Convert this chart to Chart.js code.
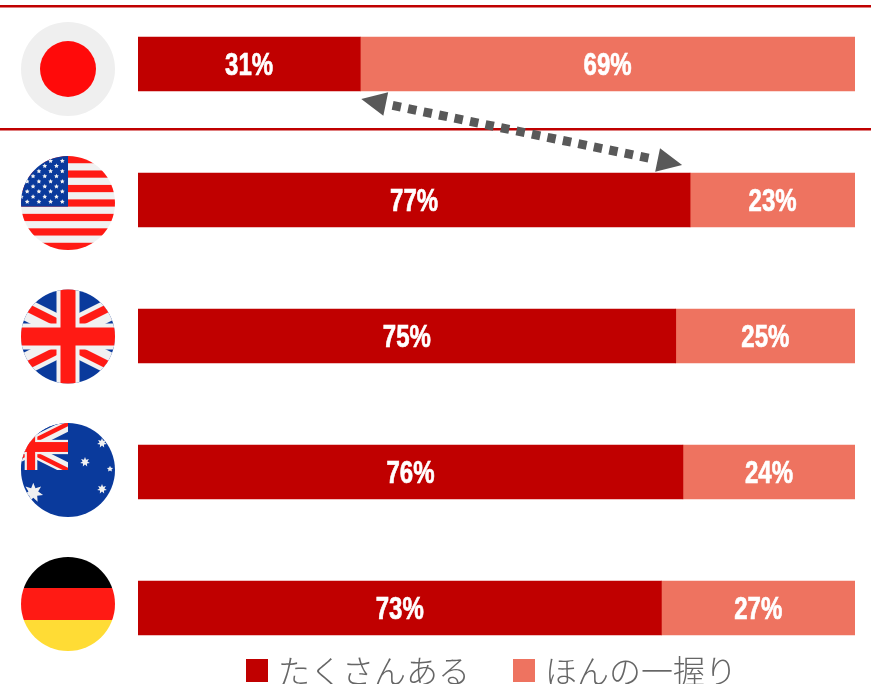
<!DOCTYPE html>
<html lang="ja">
<head>
<meta charset="utf-8">
<title>たくさんある / ほんの一握り</title>
<script src="https://cdn.jsdelivr.net/npm/chart.js@4"></script>
<style>
    html, body { margin: 0; padding: 0; background: #fff; overflow: hidden; }
    #wrap { position: relative; width: 871px; height: 684px; overflow: hidden; }
    #wrap canvas { position: absolute; left: 0; top: -4px; }
    #legend {
        position: absolute; left: 246px; top: 650.5px; display: flex; align-items: center;
        font-family: "Noto Sans CJK JP", "Noto Sans", sans-serif; font-weight: 300;
        font-size: 32px; line-height: 40px; color: #666; white-space: nowrap;
    }
    #legend i { display: inline-block; width: 22px; height: 23px; margin-right: 10px; }
    #legend span { margin-right: 43px; position: relative; top: -2px; }
</style>
</head>
<body>
<div id="wrap">
    <canvas id="shareChart" width="871" height="688"></canvas>
    <div id="legend"></div>
</div>
<script>
const countries = ['日本', 'アメリカ', 'イギリス', 'オーストラリア', 'ドイツ'];
const seriesNames = ['たくさんある', 'ほんの一握り'];
const manyValues = [31, 77, 75, 76, 73];
const fewValues = [69, 23, 25, 24, 27];
const seriesColors = ['#C00000', '#EE7360'];

const RED = '#FF1A14', BLUE = '#0A3A9C', WHITE = '#F1F1F1';

// canvas sits 4px above the page
const PAGE = 4;

function star(ctx, x, y, r, points) {
    let inner = r * 0.5;
    ctx.beginPath();
    for (let i = 0; i < points * 2; i++) {
        let a = -Math.PI / 2 + i * Math.PI / points;
        let d = i % 2 ? inner : r;
        ctx.lineTo(x + Math.cos(a) * d, y + Math.sin(a) * d);
    }
    ctx.closePath();
    ctx.fill();
}

// union flag centred on 0,0, wider than tall so the diagonals run shallow
function unionJack(ctx, scale) {
    ctx.save();
    ctx.scale(scale, scale);
    ctx.fillStyle = BLUE;
    ctx.fillRect(-100, -100, 200, 200);
    [[1, 1], [-1, 1], [1, -1], [-1, -1]].forEach(q => {
        ctx.save();
        ctx.scale(q[0], q[1]);
        ctx.fillStyle = WHITE;
        band(ctx, -18, 6);
        ctx.fillStyle = RED;
        band(ctx, -13, -4);
        ctx.restore();
    });
    ctx.fillStyle = WHITE;
    ctx.fillRect(-11.5, -100, 23, 200);
    ctx.fillRect(-100, -13, 200, 26);
    ctx.fillStyle = RED;
    ctx.fillRect(-7.5, -100, 15, 200);
    ctx.fillRect(-100, -9, 200, 18);
    ctx.restore();
}

function band(ctx, top, bottom) {
    ctx.beginPath();
    ctx.moveTo(0, top);
    ctx.lineTo(-100, -50 + top);
    ctx.lineTo(-100, -50 + bottom);
    ctx.lineTo(0, bottom);
    ctx.closePath();
    ctx.fill();
}

// each flag painter works in a box centred on 0,0 with radius 47
const flagPainters = [
    ctx => {
        ctx.fillStyle = '#EFEFEF';
        ctx.fillRect(-48, -48, 96, 96);
        ctx.fillStyle = '#FF0A0A';
        ctx.beginPath();
        ctx.arc(0, 0, 28, 0, Math.PI * 2);
        ctx.fill();
    },
    ctx => {
        let stripe = 94 / 13;
        ctx.fillStyle = WHITE;
        ctx.fillRect(-48, -48, 96, 96);
        ctx.fillStyle = RED;
        for (let i = 0; i < 13; i += 2) ctx.fillRect(-48, -47 + i * stripe, 96, stripe);
        ctx.fillStyle = BLUE;
        ctx.fillRect(-48, -47, 48, stripe * 7);
        ctx.fillStyle = WHITE;
        for (let row = 0; row < 9; row++) {
            let odd = row % 2;
            for (let col = 0; col < 4; col++) {
                let sx = -5.7 - col * 11.7 - (odd ? 5.85 : 0);
                star(ctx, sx, -42 + row * 5.1, 2.5, 5);
            }
        }
    },
    ctx => unionJack(ctx, 1),
    ctx => {
        ctx.fillStyle = BLUE;
        ctx.fillRect(-48, -48, 96, 96);
        ctx.save();
        ctx.beginPath();
        ctx.rect(-48, -48, 48, 48);
        ctx.clip();
        ctx.translate(-37, -23);
        unionJack(ctx, 0.55);
        ctx.restore();
        ctx.fillStyle = WHITE;
        star(ctx, -34.7, 22.7, 10, 7);
        star(ctx, 17, -8, 5, 7);
        star(ctx, 34, -27, 5, 7);
        star(ctx, 42, -1, 3.2, 5);
        star(ctx, 34, 19, 5, 7);
    },
    ctx => {
        ctx.fillStyle = '#000';
        ctx.fillRect(-48, -48, 96, 32);
        ctx.fillStyle = RED;
        ctx.fillRect(-48, -16, 96, 32);
        ctx.fillStyle = '#FFDC35';
        ctx.fillRect(-48, 16, 96, 32);
    }
];
const flagCenters = [69, 203, 336.5, 470, 604];

function drawPercent(ctx, text, px, py) {
    ctx.save();
    ctx.translate(px, py);
    ctx.scale(0.75, 1);
    ctx.strokeText(text, 0, 0);
    ctx.fillText(text, 0, 0);
    ctx.restore();
}

const overlayPlugin = {
    id: 'overlay',
    beforeDatasetsDraw(chart) {
        let ctx = chart.ctx;
        ctx.save();
        ctx.fillStyle = '#C00000';
        ctx.fillRect(0, 5 + PAGE, chart.width, 2.5);
        ctx.fillRect(0, 128 + PAGE, chart.width, 2.5);
        flagPainters.forEach((paint, i) => {
            ctx.save();
            ctx.translate(68, flagCenters[i] + PAGE);
            ctx.beginPath();
            ctx.arc(0, 0, 47, 0, Math.PI * 2);
            ctx.clip();
            paint(ctx);
            ctx.restore();
        });
        ctx.restore();
    },
    afterDatasetsDraw(chart) {
        let ctx = chart.ctx, x = chart.scales.x, y = chart.scales.y;
        ctx.save();

        // percent labels in the middle of each segment
        ctx.fillStyle = ctx.strokeStyle = '#fff';
        ctx.lineWidth = 0.7;
        ctx.font = 'bold 32px "Liberation Sans", sans-serif';
        ctx.textAlign = 'center';
        ctx.textBaseline = 'middle';
        countries.forEach((c, i) => {
            let py = y.getPixelForValue(i) + 2;
            drawPercent(ctx, manyValues[i] + '%', x.getPixelForValue(manyValues[i] / 2), py);
            drawPercent(ctx, fewValues[i] + '%', x.getPixelForValue(manyValues[i] + fewValues[i] / 2), py);
        });

        // dotted double arrow between the Japan and US splits
        let x1 = x.getPixelForValue(manyValues[0]) + 1;
        let y1 = y.getPixelForValue(0) + 35;
        let x2 = x.getPixelForValue(manyValues[1]) - 8;
        let y2 = y.getPixelForValue(1) - 35;
        let ang = Math.atan2(y2 - y1, x2 - x1);
        let len = Math.hypot(x2 - x1, y2 - y1);
        ctx.translate(x1, y1);
        ctx.rotate(ang);
        ctx.fillStyle = ctx.strokeStyle = '#595959';
        ctx.lineWidth = 9;
        ctx.setLineDash([8.5, 7.3]);
        ctx.beginPath();
        ctx.moveTo(32, 0);
        ctx.lineTo(len - 27, 0);
        ctx.stroke();
        ctx.beginPath();
        ctx.moveTo(0, 0); ctx.lineTo(25, -12); ctx.lineTo(25, 12); ctx.closePath();
        ctx.moveTo(len, 0); ctx.lineTo(len - 25, -12); ctx.lineTo(len - 25, 12); ctx.closePath();
        ctx.fill();
        ctx.restore();
    }
};

new Chart(document.getElementById('shareChart'), {
    type: 'bar',
    data: {
        labels: countries,
        datasets: [
            { label: seriesNames[0], data: manyValues, backgroundColor: seriesColors[0], barThickness: 54 },
            { label: seriesNames[1], data: fewValues, backgroundColor: seriesColors[1], barThickness: 54 }
        ]
    },
    options: {
        indexAxis: 'y',
        responsive: false,
        animation: false,
        layout: { padding: { left: 138, right: 16, top: 0, bottom: 8 } },
        scales: {
            x: { stacked: true, min: 0, max: 100, display: false },
            y: { stacked: true, display: false }
        },
        plugins: { legend: { display: false }, tooltip: { enabled: false } }
    },
    plugins: [overlayPlugin]
});

// legend
let legendBox = document.getElementById('legend');
seriesNames.forEach((name, i) => {
    legendBox.innerHTML += `<i style="background:${seriesColors[i]}"></i><span>${name}</span>`;
});
</script>
</body>
</html>
